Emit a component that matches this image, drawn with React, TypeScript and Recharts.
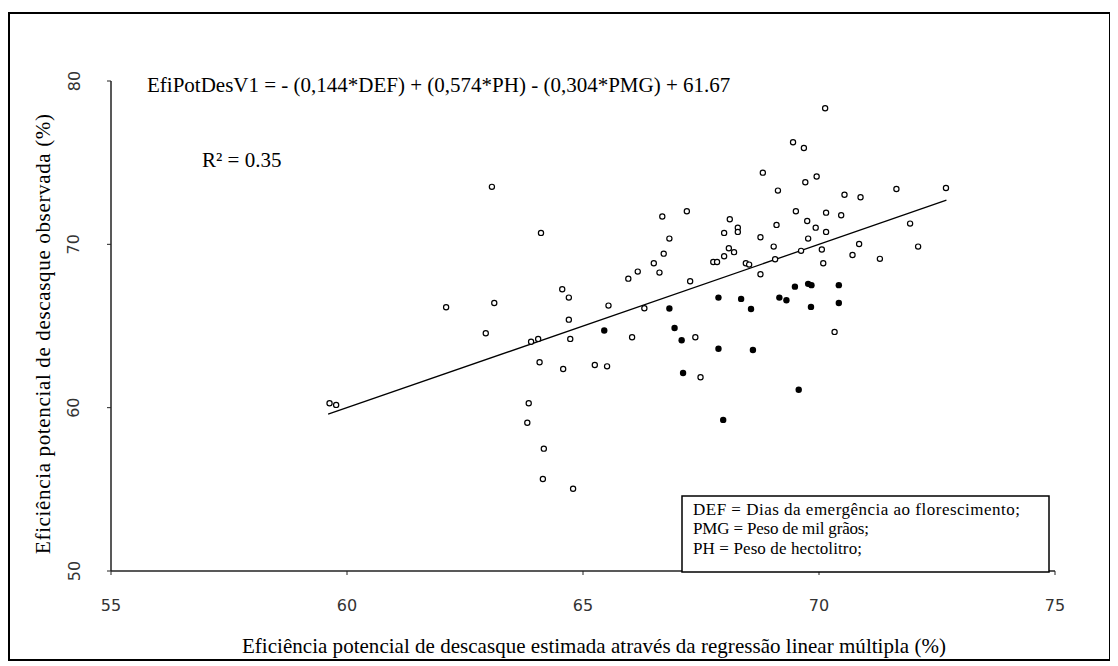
import { ScatterChart, Scatter, XAxis, YAxis } from 'recharts';

// axis ticks
const xTicks = [55, 60, 65, 70, 75];
const yTicks = [50, 60, 70, 80];

// open circles (observed vs estimated)
const openX = [
  59.63, 59.77, 62.10, 63.12, 62.94, 64.56, 64.70, 64.70, 63.90, 64.05,
  64.73, 64.08, 64.58, 65.25, 63.85, 63.82, 64.17, 64.15, 64.79, 63.07,
  64.11, 70.13, 69.45, 69.68, 68.81, 69.13, 69.71, 69.95, 71.64, 70.54,
  70.88, 66.68, 67.20, 68.11, 67.99, 68.28, 68.28, 69.10, 69.51, 70.15,
  70.47, 69.75, 69.93, 70.15, 69.77, 68.76, 66.83, 66.71, 66.50, 66.62,
  66.16, 65.96, 67.27, 67.76, 67.84, 67.99, 68.09, 68.20, 68.45, 68.52,
  68.76, 69.04, 69.07, 69.62, 70.06, 70.09, 70.85, 70.71, 71.29, 65.54,
  66.30, 72.69, 71.93, 72.10, 66.04, 67.38, 70.33, 65.51, 67.49,
];
const openY = [
  60.27, 60.17, 66.15, 66.41, 64.56, 67.25, 66.74, 65.39, 64.04, 64.21,
  64.21, 62.78, 62.37, 62.61, 60.27, 59.08, 57.49, 55.63, 55.04, 73.52,
  70.70, 78.33, 76.25, 75.90, 74.39, 73.29, 73.80, 74.15, 73.39, 73.04,
  72.88, 71.70, 72.03, 71.54, 70.70, 71.02, 70.76, 71.19, 72.03, 71.94,
  71.78, 71.43, 71.02, 70.76, 70.35, 70.43, 70.35, 69.43, 68.84, 68.27,
  68.33, 67.90, 67.74, 68.92, 68.92, 69.27, 69.76, 69.52, 68.84, 68.76,
  68.17, 69.86, 69.09, 69.60, 69.68, 68.84, 70.02, 69.35, 69.11, 66.25,
  66.09, 73.45, 71.27, 69.86, 64.31, 64.31, 64.64, 62.53, 61.86,
];

// filled dots
const filledX = [
  67.87, 68.35, 69.16, 69.31, 69.49, 69.77, 69.84, 70.42, 70.42, 69.83,
  66.83, 68.56, 65.45, 66.94, 67.09, 67.87, 68.60, 67.12, 69.57, 67.97,
];
const filledY = [
  66.74, 66.66, 66.74, 66.58, 67.41, 67.58, 67.50, 67.50, 66.41, 66.17,
  66.07, 66.04, 64.72, 64.88, 64.13, 63.61, 63.53, 62.12, 61.10, 59.25,
];

// fitted line end points
const fitX = [59.6, 72.7];
const fitY = [59.6, 72.7];

const openData = openX.map((x, i) => ({ x, y: openY[i] }));
const filledData = filledX.map((x, i) => ({ x, y: filledY[i] }));
const fitData = fitX.map((x, i) => ({ x, y: fitY[i] }));

const W = 1104;
const H = 654;

const OpenDot = (p: any) => (
  <circle cx={p.cx} cy={p.cy} r={2.6} fill="#fff" stroke="#000" strokeWidth={1.2} />
);
const FilledDot = (p: any) => <circle cx={p.cx} cy={p.cy} r={3.2} fill="#000" />;

const XTick = (p: any) => (
  <text x={p.x} y={p.y + 28} textAnchor="middle" dominantBaseline="central"
    fontFamily="DejaVu Sans" fontSize={16} fill="#333">
    {p.payload.value}
  </text>
);

const YTick = (p: any) => {
  const cx = p.x - 31;
  return (
    <text x={cx} y={p.y} textAnchor="middle" dominantBaseline="central"
      transform={`rotate(-90, ${cx}, ${p.y})`}
      fontFamily="DejaVu Sans" fontSize={16} fill="#333">
      {p.payload.value}
    </text>
  );
};

const serif = '"Liberation Serif", "Times New Roman", serif';

export default function App() {
  return (
    <div style={{ position: 'relative', width: W, height: H }}>
      <ScatterChart width={W} height={H} margin={{ top: 73, right: 57, bottom: 0, left: 0 }}>
        <XAxis type="number" dataKey="x" domain={[55, 75]} ticks={xTicks} height={91}
          axisLine={{ stroke: '#222', strokeWidth: 1.5 }} tickLine={{ stroke: '#222' }}
          tickSize={4} tick={<XTick />} interval={0} />
        <YAxis type="number" dataKey="y" domain={[50, 80]} ticks={yTicks} width={103}
          axisLine={{ stroke: '#222', strokeWidth: 1.5 }} tickLine={{ stroke: '#222' }}
          tickSize={4} tick={<YTick />} interval={0} />
        <Scatter data={fitData} line={{ stroke: '#000', strokeWidth: 1.3 }} shape={() => <g />}
          isAnimationActive={false} />
        <Scatter data={openData} shape={OpenDot} isAnimationActive={false} />
        <Scatter data={filledData} shape={FilledDot} isAnimationActive={false} />
      </ScatterChart>
      <svg width={W} height={H} style={{ position: 'absolute', left: 0, top: 0, pointerEvents: 'none' }}
        fontFamily={serif}>
        <rect x={1} y={5} width={1101} height={647} fill="none" stroke="#000" strokeWidth={2} />
        <text x={139} y={84} fontSize={21} fill="#000">
          EfiPotDesV1 = - (0,144*DEF) + (0,574*PH) - (0,304*PMG) + 61.67
        </text>
        <text x={194} y={159} fontSize={21} fill="#000">R² = 0.35</text>
        <text x={586} y={645} fontSize={21} textAnchor="middle" fill="#000"
          textLength={704} lengthAdjust="spacing">
          Eficiência potencial de descasque estimada através da regressão linear múltipla (%)
        </text>
        <text x={42} y={326} fontSize={21} textAnchor="middle" fill="#000"
          textLength={440} lengthAdjust="spacing"
          transform="rotate(-90, 42, 326)">
          Eficiência potencial de descasque observada (%)
        </text>
        <rect x={674} y={488} width={367} height={76} fill="#fff" stroke="#000" strokeWidth={1.5} />
        <g fontSize={17} fill="#000" lengthAdjust="spacing">
          <text x={685} y={507} textLength={327}>DEF = Dias da emergência ao florescimento;</text>
          <text x={685} y={526} textLength={176}>PMG = Peso de mil grãos;</text>
          <text x={685} y={546} textLength={169}>PH = Peso de hectolitro;</text>
        </g>
      </svg>
    </div>
  );
}
